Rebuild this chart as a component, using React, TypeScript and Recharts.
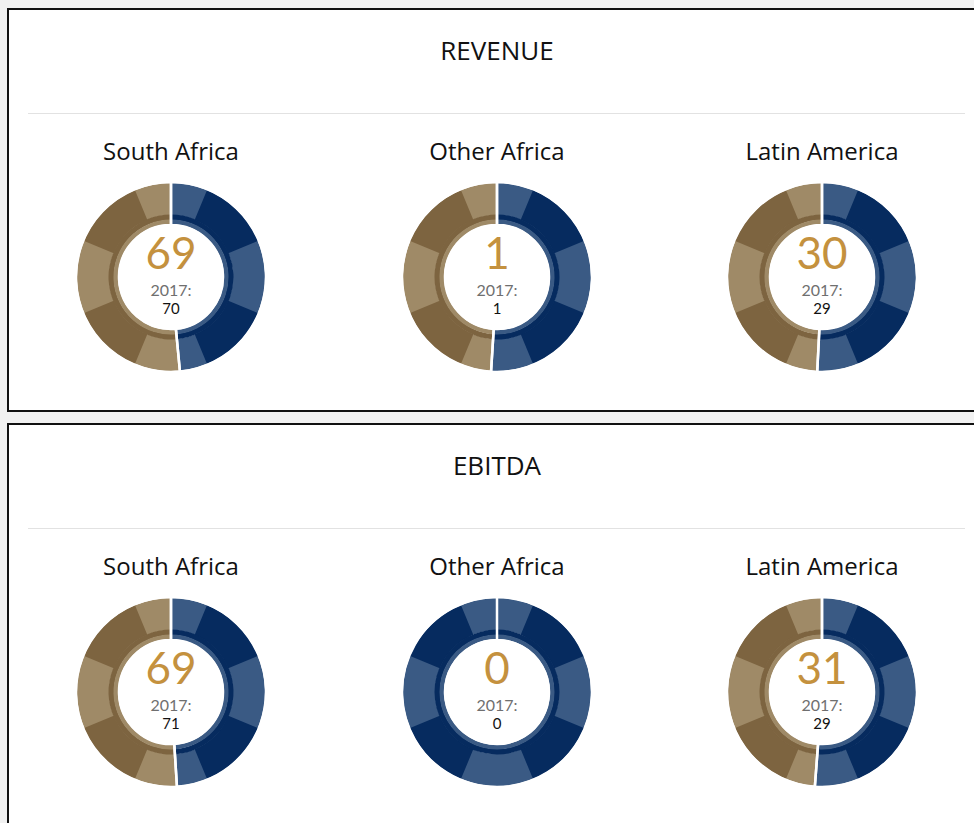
import React from 'react';
import { PieChart, Pie, Cell } from 'recharts';

// regions and values
const regions = ['South Africa', 'Other Africa', 'Latin America'];
const revenue2018 = [69, 1, 30];
const revenue2017 = [70, 1, 29];
const revenueBlueShare = [48.5, 51, 50.8];
const ebitda2018 = [69, 0, 31];
const ebitda2017 = [71, 0, 29];
const ebitdaBlueShare = [49, 100, 51.2];
// eight decorative 45° blocks round the outer ring
const decorBlocks = [1, 1, 1, 1, 1, 1, 1, 1];

const BLUE = '#3a5a84';
const NAVY = '#062b5f';
const TAN = '#9f8a67';
const BROWN = '#7d6440';
const GOLD = '#c4913e';
const FONT = '"Open Sans", Lato, sans-serif';
const NUM_FONT = 'Lato, "Open Sans", sans-serif';

const centersX = [171, 497, 822];

function Donut({ share, value, prev, cx, cy }: { share: number; value: number; prev: number; cx: number; cy: number }) {
  const shareData = [
    { name: 'blue', value: share },
    { name: 'tan', value: 100 - share },
  ];
  const decor = decorBlocks.map((v, i) => ({ name: `b${i}`, value: v }));
  const size = 200;
  const c = size / 2;
  return (
    <>
      <div style={{ position: 'absolute', left: cx - c, top: cy - c }}>
        <PieChart width={size} height={size} margin={{ top: 0, right: 0, bottom: 0, left: 0 }}>
          {/* outer ring, light colours */}
          <Pie data={shareData} dataKey="value" cx={c} cy={c} innerRadius={62} outerRadius={94}
            startAngle={90} endAngle={-270} stroke="none" isAnimationActive={false}>
            {shareData.map((d, i) => <Cell key={i} fill={i === 0 ? BLUE : TAN} />)}
          </Pie>
          {/* dark blocks */}
          <Pie data={decor} dataKey="value" cx={c} cy={c} innerRadius={62} outerRadius={94}
            startAngle={67.5} endAngle={-292.5} stroke="none" isAnimationActive={false}>
            {decor.map((d, i) => {
              const mid = 45 + 45 * i;
              const fill = i % 2 === 0 ? (mid < share * 3.6 ? NAVY : BROWN) : 'transparent';
              return <Cell key={i} fill={fill} />;
            })}
          </Pie>
          {/* inner dark ring */}
          <Pie data={shareData} dataKey="value" cx={c} cy={c} innerRadius={57} outerRadius={62.5}
            startAngle={90} endAngle={-270} stroke="none" isAnimationActive={false}>
            {shareData.map((d, i) => <Cell key={i} fill={i === 0 ? NAVY : BROWN} />)}
          </Pie>
          {/* inner light ring */}
          <Pie data={shareData} dataKey="value" cx={c} cy={c} innerRadius={53} outerRadius={57.5}
            startAngle={90} endAngle={-270} stroke="none" isAnimationActive={false}>
            {shareData.map((d, i) => <Cell key={i} fill={i === 0 ? BLUE : TAN} />)}
          </Pie>
          {/* white dividers between the two halves */}
          <Pie data={shareData} dataKey="value" cx={c} cy={c} innerRadius={52} outerRadius={95}
            startAngle={90} endAngle={-270} fill="transparent" stroke="#fff" strokeWidth={2.5} isAnimationActive={false}>
            {shareData.map((d, i) => <Cell key={i} fill="transparent" />)}
          </Pie>
        </PieChart>
      </div>
      <div style={{ position: 'absolute', left: cx - 50, width: 100, top: cy - 51, height: 52, lineHeight: '52px', textAlign: 'center', fontSize: 44, color: GOLD, fontFamily: NUM_FONT }}>
        {value}
      </div>
      <div style={{ position: 'absolute', left: cx - 50, width: 100, top: cy + 2.5, height: 19, lineHeight: '19px', textAlign: 'center', fontSize: 16, color: '#6f6f6f', fontFamily: NUM_FONT }}>
        2017:
      </div>
      <div style={{ position: 'absolute', left: cx - 50, width: 100, top: cy + 22, height: 18, lineHeight: '18px', textAlign: 'center', fontSize: 15, color: '#111', fontFamily: NUM_FONT }}>
        {prev}
      </div>
    </>
  );
}

function Panel({ top, height, title, values, prevs, shares }: { top: number; height: number; title: string; values: number[]; prevs: number[]; shares: number[] }) {
  return (
    <>
      <div style={{ position: 'absolute', left: 7, top, width: 990, height, border: '2px solid #111', background: '#fff', boxSizing: 'border-box' }} />
      <div style={{ position: 'absolute', left: 297, width: 400, top: top + 24, height: 36, lineHeight: '36px', textAlign: 'center', fontSize: 26, color: '#111', fontFamily: FONT }}>
        {title}
      </div>
      <div style={{ position: 'absolute', left: 28, width: 937, top: top + 105, height: 1, background: '#e2e2e2' }} />
      {regions.map((r, i) => (
        <div key={r} style={{ position: 'absolute', left: centersX[i] - 120, width: 240, top: top + 126, height: 34, lineHeight: '34px', textAlign: 'center', fontSize: 24, color: '#111', fontFamily: FONT }}>
          {r}
        </div>
      ))}
      {regions.map((r, i) => (
        <Donut key={r} share={shares[i]} value={values[i]} prev={prevs[i]} cx={centersX[i]} cy={top + 269} />
      ))}
    </>
  );
}

export default function App() {
  return (
    <div style={{ position: 'absolute', left: 0, top: 0, width: 974, height: 823, background: '#f1f1f1', overflow: 'hidden' }}>
      <Panel top={8} height={404} title="REVENUE" values={revenue2018} prevs={revenue2017} shares={revenueBlueShare} />
      <Panel top={423} height={420} title="EBITDA" values={ebitda2018} prevs={ebitda2017} shares={ebitdaBlueShare} />
    </div>
  );
}
